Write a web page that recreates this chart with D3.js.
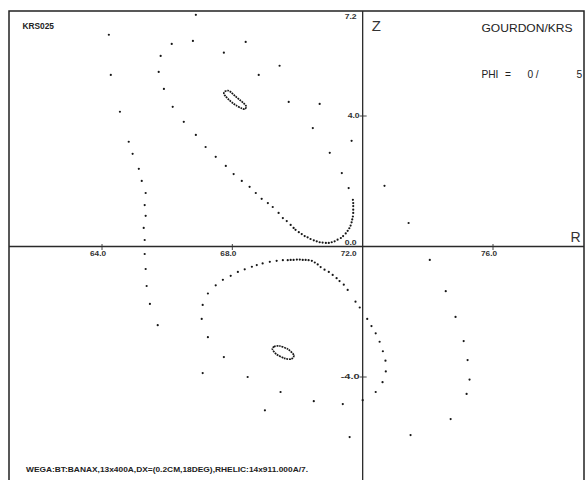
<!DOCTYPE html>
<html>
<head>
<meta charset="utf-8">
<script src="https://cdn.jsdelivr.net/npm/d3@7"></script>
<style>
  html, body { margin: 0; padding: 0; background: #fff; }
  svg { display: block; }
</style>
</head>
<body>
<script>
// Poincaré section of traced field lines in the R–Z plane (PHI = 0/5).
// Each point is [R, Z] in cm.

// Stochastic outer field line, scattered punctures
const outerPoints = [
  [66.88, 7.10], [64.21, 6.49], [66.14, 6.21], [66.79, 6.30], [65.80, 5.84],
  [64.27, 5.26], [65.74, 5.35], [65.90, 4.83], [64.55, 4.13], [66.17, 4.28],
  [68.41, 6.27], [67.74, 5.94], [69.45, 5.54], [68.81, 5.26], [69.73, 4.43],
  [70.68, 4.37], [66.51, 3.82], [70.47, 3.63], [66.88, 3.42], [64.82, 3.21],
  [64.94, 2.84], [65.13, 2.38], [65.22, 2.01], [65.34, 1.64], [65.31, 1.27],
  [65.34, 0.94], [65.28, 0.57], [65.31, 0.20], [65.31, -0.23], [65.34, -0.69],
  [65.37, -1.21], [65.47, -1.76], [65.71, -2.41], [70.99, 2.87], [71.66, 3.24],
  [71.36, 2.25], [71.57, 1.79], [72.67, 1.86], [73.41, 0.72], [74.06, -0.41],
  [74.55, -1.37], [74.85, -2.16], [75.10, -2.90], [75.22, -3.48], [75.28, -4.08],
  [75.19, -4.52], [74.70, -5.29], [73.47, -5.78], [71.60, -5.84], [71.39, -4.83],
  [70.50, -4.74], [69.48, -4.46], [69.00, -5.02], [68.47, -4.00], [67.09, -3.88],
  [67.74, -3.39], [67.25, -2.78], [72.00, -4.71], [72.40, -4.46], [72.61, -4.16]
];

// Upper separatrix branch, sweeping down to the X-point near Z = 0
const upperSeparatrix = [
  [67.18, 3.05], [67.49, 2.75], [67.80, 2.47], [68.04, 2.22], [68.29, 2.01],
  [68.53, 1.83], [68.72, 1.64], [68.90, 1.46], [69.09, 1.33], [69.24, 1.21],
  [69.42, 1.03], [69.55, 0.87], [69.67, 0.78], [69.79, 0.66], [69.88, 0.57],
  [69.94, 0.51], [70.04, 0.44], [70.13, 0.38], [70.22, 0.32], [70.31, 0.28],
  [70.40, 0.23], [70.50, 0.19], [70.59, 0.16], [70.68, 0.13], [70.77, 0.12],
  [70.87, 0.11], [70.96, 0.11], [71.05, 0.13], [71.14, 0.16], [71.23, 0.21],
  [71.33, 0.26], [71.40, 0.32], [71.48, 0.40], [71.54, 0.48], [71.59, 0.56],
  [71.63, 0.64], [71.66, 0.74], [71.68, 0.83], [71.70, 0.92], [71.71, 1.03],
  [71.71, 1.13], [71.71, 1.24], [71.71, 1.33], [71.70, 1.43]
];

// Lower separatrix branch
const lowerSeparatrix = [
  [67.06, -2.22], [67.09, -1.79], [67.25, -1.44], [67.49, -1.19], [67.71, -1.02],
  [67.95, -0.90], [68.17, -0.78], [68.38, -0.70], [68.60, -0.62], [68.75, -0.57],
  [68.93, -0.52], [69.15, -0.47], [69.36, -0.44], [69.55, -0.42], [69.70, -0.42],
  [69.79, -0.41], [69.88, -0.41], [69.98, -0.40], [70.07, -0.40], [70.16, -0.41],
  [70.25, -0.41], [70.34, -0.42], [70.44, -0.44], [70.53, -0.49], [70.62, -0.55],
  [70.71, -0.63], [70.83, -0.71], [70.96, -0.78], [71.08, -0.87], [71.20, -0.97],
  [71.29, -1.06], [71.42, -1.17], [71.54, -1.33], [71.78, -1.69], [71.91, -1.87],
  [72.14, -2.22], [72.27, -2.44], [72.40, -2.66], [72.52, -2.92], [72.62, -3.21],
  [72.70, -3.50], [72.71, -3.83]
];

// Small closed island surfaces
const upperIsland = [
  [67.74, 4.68], [67.77, 4.75], [67.87, 4.78], [67.97, 4.72], [68.10, 4.60],
  [68.23, 4.49], [68.35, 4.39], [68.43, 4.29], [68.38, 4.21], [68.28, 4.24],
  [68.14, 4.31], [68.02, 4.39], [67.90, 4.49], [67.80, 4.60]
];
const lowerIsland = [
  [69.23, -3.15], [69.28, -3.07], [69.45, -3.05], [69.71, -3.15], [69.89, -3.33],
  [69.81, -3.45], [69.61, -3.43], [69.35, -3.30]
];

// Axis ticks
const rTicks = [64, 68, 72, 76];
const rTickLabels = ["64.0", "68.0", "72.0", "76.0"];
const zTicks = [7.2, 4, 0, -4];
const zTickLabels = ["7.2", "4.0", "0.0", "-4.0"];

// Annotation texts
const runId = "KRS025";
const author = "GOURDON/KRS";
const phiParts = ["PHI", "=", "0/", "5"];
const caption = "WEGA:BT:BANAX,13x400A,DX=(0.2CM,18DEG),RHELIC:14x911.000A/7.";
const axisNames = { r: "R", z: "Z" };

// ---------------------------------------------------------------
const W = 586, H = 480;
const frame = { left: 9, top: 11, right: 584, bottom: 482 };
const originR = 72, originZ = 0;

const x = d3.scaleLinear().domain([64, 76]).range([102, 493]);
const y = d3.scaleLinear().domain([-4, 4]).range([377, 116]);

const svg = d3.select("body").append("svg")
  .attr("width", W).attr("height", H)
  .style("font-family", "'Liberation Sans', Arial, sans-serif");

svg.append("rect").attr("width", W).attr("height", H).attr("fill", "#fff");

const ink = "#161616";

// Plot frame
svg.append("rect")
  .attr("x", frame.left).attr("y", frame.top)
  .attr("width", frame.right - frame.left)
  .attr("height", frame.bottom - frame.top)
  .attr("fill", "none").attr("stroke", "#222").attr("stroke-width", 1.5);

// Axes crossing at R = 72, Z = 0
svg.append("line")
  .attr("x1", frame.left).attr("x2", frame.right)
  .attr("y1", y(originZ)).attr("y2", y(originZ))
  .attr("stroke", "#2a2a2a").attr("stroke-width", 1.3);
svg.append("line")
  .attr("x1", x(originR)).attr("x2", x(originR))
  .attr("y1", frame.top).attr("y2", frame.bottom)
  .attr("stroke", "#2a2a2a").attr("stroke-width", 1.3);

// R ticks and labels
const rAxis = svg.append("g");
rTicks.forEach((v, i) => {
  const px = x(v);
  if (v !== originR) {
    rAxis.append("line")
      .attr("x1", px).attr("x2", px)
      .attr("y1", y(originZ) - 2.5).attr("y2", y(originZ) + 3.5)
      .attr("stroke", "#333").attr("stroke-width", 0.9);
  }
  const t = rAxis.append("text")
    .attr("y", y(originZ) + 9)
    .attr("font-size", 7.6).attr("font-weight", "bold").attr("fill", "#333")
    .attr("textLength", 16).attr("lengthAdjust", "spacingAndGlyphs")
    .text(rTickLabels[i]);
  if (v === originR) t.attr("x", px - 6).attr("text-anchor", "end");
  else t.attr("x", px - 4).attr("text-anchor", "middle");
});

// Z ticks and labels
const zAxis = svg.append("g");
const zMax = d3.max(zTicks);
zTicks.forEach((v, i) => {
  const py = y(v);
  let base = py + 2;
  let right = x(originR) - 3;
  if (v === zMax) { base = py + 7; right = x(originR) - 6; }
  else if (v === originZ) { base = py - 1.5; right = x(originR) - 6; }
  else {
    zAxis.append("line")
      .attr("x1", x(originR) - 3).attr("x2", x(originR) + 4)
      .attr("y1", py).attr("y2", py)
      .attr("stroke", "#333").attr("stroke-width", 0.9);
  }
  zAxis.append("text")
    .attr("x", right).attr("y", base)
    .attr("text-anchor", "end")
    .attr("font-size", 7.6).attr("font-weight", "bold").attr("fill", "#333")
    .attr("textLength", zTickLabels[i].length > 3 ? 19 : 12)
    .attr("lengthAdjust", "spacingAndGlyphs")
    .text(zTickLabels[i]);
});

// Axis names
svg.append("text")
  .attr("x", x(originR) + 9).attr("y", 30.5)
  .attr("font-size", 15).attr("fill", "#333")
  .text(axisNames.z);
svg.append("text")
  .attr("x", 570.5).attr("y", y(originZ) - 4.8)
  .attr("font-size", 14).attr("fill", "#333")
  .text(axisNames.r);

// Header annotations
svg.append("text")
  .attr("x", 22.5).attr("y", 28.7)
  .attr("font-size", 8.4).attr("font-weight", "bold").attr("fill", "#222")
  .attr("textLength", 31.5).attr("lengthAdjust", "spacingAndGlyphs")
  .text(runId);

svg.append("text")
  .attr("x", 481.5).attr("y", 32.4)
  .attr("font-size", 10.2).attr("fill", "#222")
  .attr("textLength", 91).attr("lengthAdjust", "spacingAndGlyphs")
  .text(author);

const phiPos = [[481.5, 16.8], [505, 6.7], [527.5, 11], [576.5, 5.4]];
phiParts.forEach((s, i) => {
  svg.append("text")
    .attr("x", phiPos[i][0]).attr("y", 78.4)
    .attr("font-size", 10.2).attr("fill", "#222")
    .attr("textLength", phiPos[i][1]).attr("lengthAdjust", "spacing")
    .text(s);
});

// Run description
svg.append("text")
  .attr("x", 26).attr("y", 471.7)
  .attr("font-size", 7.6).attr("font-weight", "bold").attr("fill", "#222")
  .attr("textLength", 282).attr("lengthAdjust", "spacingAndGlyphs")
  .text(caption);

// Puncture points
const dots = svg.append("g").attr("fill", ink);
[outerPoints, upperSeparatrix, lowerSeparatrix].forEach(set => {
  dots.selectAll(null).data(set).enter().append("circle")
    .attr("cx", d => x(d[0])).attr("cy", d => y(d[1]))
    .attr("r", 1.1);
});

// Island surfaces, drawn as closed dotted curves
const islandLine = d3.line()
  .x(d => x(d[0])).y(d => y(d[1]))
  .curve(d3.curveCardinalClosed.tension(0.2));
[upperIsland, lowerIsland].forEach(set => {
  svg.append("path")
    .attr("d", islandLine(set))
    .attr("fill", "none").attr("stroke", ink)
    .attr("stroke-width", 1.7).attr("stroke-dasharray", "1.8 0.8");
});
</script>
</body>
</html>
